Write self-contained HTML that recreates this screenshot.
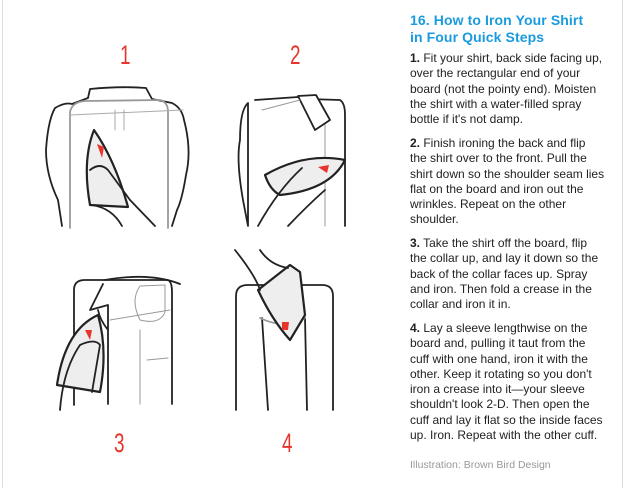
<!DOCTYPE html>
<html><head><meta charset="utf-8"><style>
html,body{margin:0;padding:0;background:#fff;}
body{width:625px;height:488px;position:relative;overflow:hidden;font-family:"Liberation Sans",sans-serif;}
.b{position:absolute;top:0;bottom:0;width:1px;background:#ddd;}
.t{position:absolute;left:410px;color:#1a9be0;font-weight:bold;font-size:14px;letter-spacing:0.1px;line-height:17px;}
.p{position:absolute;left:410px;font-size:12px;line-height:15.3px;color:#222;white-space:nowrap;}
.p b{font-weight:bold;}
.n{position:absolute;color:#e8352b;font-size:27px;font-family:"Liberation Sans Narrow","Liberation Sans",sans-serif;transform:scaleX(0.7);transform-origin:left top;line-height:27px;}
svg{position:absolute;left:0;top:0;}
</style></head><body>
<div class="b" style="left:2px"></div>
<div class="b" style="left:622px"></div>
<svg width="625" height="488" viewBox="0 0 625 488" fill="none" stroke="#222" stroke-width="1.8" stroke-linejoin="round" stroke-linecap="round">
<!-- 1 -->
<path d="M88 98 L90 89 Q120 86 146 88 L152 99 L172 103 Q182 108 184 120 Q192 150 186 175 Q182 200 177 210 L172 226 M62 226 L58 200 Q46 175 46 150 Q48 120 55 108 Q65 102 72 104 L88 98" fill="#fff"/>
<path d="M70 228 L70 112 Q72 102 85 101 L160 100 Q168 102 168 112 L168 228" stroke="#999"/>
<path d="M70 115 L183 110 M115 110 L115 130 M124 110 L124 130" stroke="#aaa" stroke-width="1"/>
<path d="M94 130 Q82 160 90 205 L128 207 Q115 160 94 130 Z" fill="#eee" stroke-width="2.2"/>
<path d="M97 144 L104 147 L102 158 Z" fill="#e8352b" stroke="none"/>
<path d="M90 170 Q100 162 108 170 L130 200 L155 226 M92 205 Q112 208 122 226" />
<!-- 2 -->
<path d="M255 100 L298 97 L308 99 L340 100 Q345 103 345 115 L345 226 M248 226 L243 200 Q236 160 240 140 Q240 110 248 103 Z" fill="#fff"/>
<path d="M298 96 L316 95 L330 120 L315 130 Z" fill="#fff"/>
<path d="M325 125 L325 226 M262 110 L300 100" stroke="#999" stroke-width="1"/>
<path d="M265 175 Q305 152 345 160 Q330 190 280 195 Q270 190 265 175 Z" fill="#eee" stroke-width="2.2"/>
<path d="M318 167 L329 165 L327 173 Z" fill="#e8352b" stroke="none"/>
<path d="M258 226 Q278 190 302 168 M288 226 Q308 205 325 190" />
<!-- 3 -->
<path d="M74 405 L74 290 Q74 280 85 280 L168 280 Q172 282 172 292 L172 404"/>
<path d="M105 280 Q150 272 180 284" />
<path d="M103 284 L90 310 L108 305 L108 404 M98 310 Q100 320 108 330" fill="#fff"/>
<path d="M140 286 Q130 300 140 320 Q160 325 165 312 L165 285 Z" stroke="#999" stroke-width="1"/>
<path d="M110 320 L170 310 M140 330 L140 404 M147 360 L168 358" stroke="#999" stroke-width="1"/>
<path d="M98 315 Q65 330 57 385 L100 392 Q108 350 98 315 Z" fill="#eee" stroke-width="2.2"/>
<path d="M85 330 L92 330 L90 340 Z" fill="#e8352b" stroke="none"/>
<path d="M60 410 Q63 370 80 345 Q95 338 100 345 L92 392" />
<!-- 4 -->
<path d="M236 410 L236 296 Q236 285 248 285 L322 285 Q333 285 333 296 L333 410"/>
<path d="M262 318 L268 410 M305 318 L307 410" />
<path d="M260 318 Q285 330 305 318" stroke="#999"/>
<path d="M258 290 Q272 320 290 340 L305 315 L300 272 L290 265 Z" fill="#eee" stroke-width="2.2"/>
<path d="M282 322 L289 322 L288 330 L282 330 Z" fill="#e8352b" stroke="none"/>
<path d="M235 250 Q255 275 260 290 M260 250 Q270 265 288 268" />
</svg>
<div class="n" style="left:120px;top:42px">1</div>
<div class="n" style="left:290px;top:42px">2</div>
<div class="n" style="left:114px;top:430px">3</div>
<div class="n" style="left:282px;top:430px">4</div>

<div class="t" style="top:12px">16. How to Iron Your Shirt<br>in Four Quick Steps</div>
<div class="p" style="top:51px"><b>1.</b> Fit your shirt, back side facing up,<br>over the rectangular end of your<br>board (not the pointy end). Moisten<br>the shirt with a water-filled spray<br>bottle if it's not damp.</div>
<div class="p" style="top:136px"><b>2.</b> Finish ironing the back and flip<br>the shirt over to the front. Pull the<br>shirt down so the shoulder seam lies<br>flat on the board and iron out the<br>wrinkles. Repeat on the other<br>shoulder.</div>
<div class="p" style="top:236px"><b>3.</b> Take the shirt off the board, flip<br>the collar up, and lay it down so the<br>back of the collar faces up. Spray<br>and iron. Then fold a crease in the<br>collar and iron it in.</div>
<div class="p" style="top:321px"><b>4.</b> Lay a sleeve lengthwise on the<br>board and, pulling it taut from the<br>cuff with one hand, iron it with the<br>other. Keep it rotating so you don't<br>iron a crease into it—your sleeve<br>shouldn't look 2-D. Then open the<br>cuff and lay it flat so the inside faces<br>up. Iron. Repeat with the other cuff.</div>
<div class="p" style="top:458px;font-size:10.5px;color:#999">Illustration: Brown Bird Design</div>
</body></html>
